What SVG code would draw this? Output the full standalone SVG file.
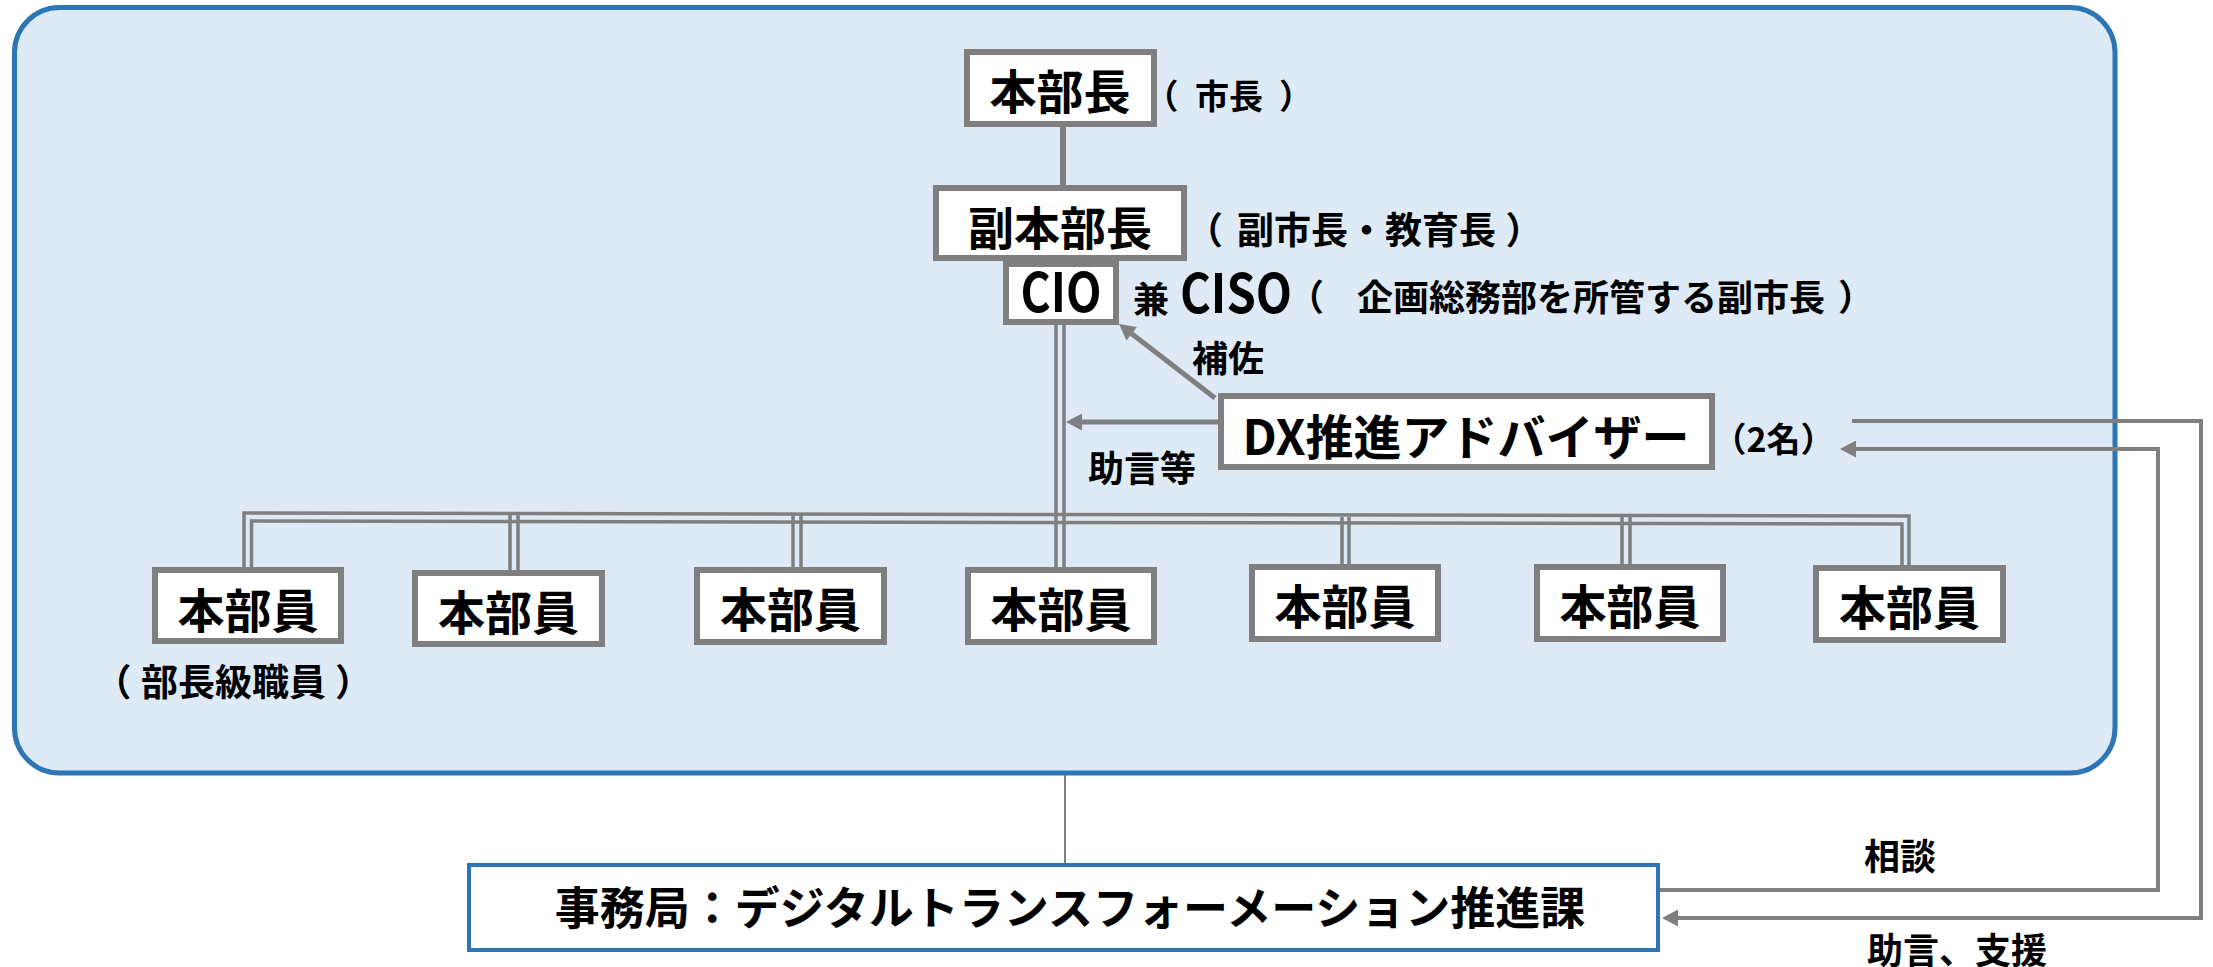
<svg xmlns="http://www.w3.org/2000/svg" width="2213" height="967" viewBox="0 0 2213 967">
<style>
.box{fill:#fff;stroke:#7f7f7f;stroke-width:6}
.ln{fill:none;stroke:#7f7f7f;stroke-width:3.5}
.ar{fill:none;stroke:#7f7f7f;stroke-width:5}
.t{font-family:"Noto Sans CJK JP","Noto Sans CJK SC",sans-serif;font-weight:bold;fill:#000;text-anchor:middle;dominant-baseline:central}
.lat{dominant-baseline:alphabetic}
</style>
<defs>
<marker id="ah" markerUnits="userSpaceOnUse" markerWidth="17" markerHeight="17" viewBox="0 0 16 17" refX="4" refY="8.5" orient="auto">
<path d="M0,0 L16,8.5 L0,17 z" fill="#7f7f7f"/>
</marker>
</defs>
<rect id="container" x="14.5" y="7.5" width="2100.5" height="765.5" rx="45" ry="45" fill="#deeaf6" stroke="#2e75b6" stroke-width="5"/>
<g id="connectors">
<line class="ln" x1="1063" y1="127" x2="1063" y2="188" style="stroke-width:6"/>
<line class="ln" x1="1056" y1="325" x2="1056" y2="570"/>
<line class="ln" x1="1064" y1="325" x2="1064" y2="570"/>
<polyline class="ln" points="244,570 244,513 1909,516 1909,568"/>
<polyline class="ln" points="251.5,570 251.5,521 1902,524 1902,568"/>
<line class="ln" x1="510" y1="515" x2="510" y2="573"/>
<line class="ln" x1="518" y1="515" x2="518" y2="573"/>
<line class="ln" x1="793" y1="515" x2="793" y2="570"/>
<line class="ln" x1="801" y1="515" x2="801" y2="570"/>
<line class="ln" x1="1342" y1="517" x2="1342" y2="567"/>
<line class="ln" x1="1349" y1="517" x2="1349" y2="567"/>
<line class="ln" x1="1622" y1="517" x2="1622" y2="567"/>
<line class="ln" x1="1630" y1="517" x2="1630" y2="567"/>
<line class="ar" x1="1215" y1="398" x2="1128.5" y2="331.3" marker-end="url(#ah)"/>
<line class="ar" x1="1218" y1="422" x2="1078" y2="422" marker-end="url(#ah)"/>
<line class="ln" x1="1065" y1="775" x2="1065" y2="865" style="stroke-width:2"/>
<path class="ln" d="M1852,421 H2201 V918 H1674" style="stroke-width:4" marker-end="url(#ah)"/>
<path class="ln" d="M1660,890 H2158 V449 H1852" style="stroke-width:4" marker-end="url(#ah)"/>
</g>
<g id="n-honbucho">
<rect class="box" x="967" y="52" width="187" height="72"/>
<text class="t" x="1060" y="88" font-size="47">本部長</text>
<text class="t" y="94" font-size="34"><tspan x="1161.5">（</tspan><tspan x="1229">市長</tspan><tspan x="1296">）</tspan></text>
</g>
<g id="n-fukuhonbucho">
<rect class="box" x="936" y="188" width="248" height="70"/>
<text class="t" x="1060" y="225" font-size="46">副本部長</text>
<text class="t" y="227.5" font-size="37"><tspan x="1204.5">（</tspan><tspan x="1366.5">副市長・教育長</tspan><tspan x="1524">）</tspan></text>
</g>
<g id="n-cio">
<rect class="box" x="1006" y="264" width="110" height="58"/>
<text class="t lat" x="1061" y="312" font-size="54" textLength="81" lengthAdjust="spacingAndGlyphs">CIO</text>
<text class="t" x="1151" y="296.5" font-size="36">兼</text>
<text class="t lat" x="1236" y="313" font-size="54" textLength="112" lengthAdjust="spacingAndGlyphs">CISO</text>
<text class="t" y="295" font-size="36"><tspan x="1306">（</tspan><tspan x="1591">企画総務部を所管する副市長</tspan><tspan x="1856">）</tspan></text>
</g>
<g id="n-dx">
<rect class="box" x="1221" y="396" width="491" height="71"/>
<text class="t" x="1466" y="433.5" font-size="48">DX推進アドバイザー</text>
<text class="t" x="1773.5" y="437.5" font-size="34">（2名）</text>
</g>
<text class="t" x="1228" y="356" font-size="36">補佐</text>
<text class="t" x="1142" y="466" font-size="36">助言等</text>
<g id="n-member1">
<rect class="box" x="155" y="570" width="186" height="71"/>
<text class="t" x="248" y="607" font-size="47">本部員</text>
<text class="t" y="679.5" font-size="37"><tspan x="113">（</tspan><tspan x="233.5">部長級職員</tspan><tspan x="353.5">）</tspan></text>
</g>
<g id="n-member2">
<rect class="box" x="415" y="573" width="187" height="71"/>
<text class="t" x="508.5" y="609" font-size="47">本部員</text>
</g>
<g id="n-member3">
<rect class="box" x="697" y="570" width="187" height="72"/>
<text class="t" x="790.5" y="606" font-size="47">本部員</text>
</g>
<g id="n-member4">
<rect class="box" x="968" y="570" width="186" height="72"/>
<text class="t" x="1061" y="606" font-size="47">本部員</text>
</g>
<g id="n-member5">
<rect class="box" x="1252" y="567" width="186" height="72"/>
<text class="t" x="1345" y="603" font-size="47">本部員</text>
</g>
<g id="n-member6">
<rect class="box" x="1537" y="567" width="186" height="72"/>
<text class="t" x="1630" y="603" font-size="47">本部員</text>
</g>
<g id="n-member7">
<rect class="box" x="1816" y="568" width="187" height="72"/>
<text class="t" x="1909.5" y="604" font-size="47">本部員</text>
</g>
<g id="n-office">
<rect x="469" y="865" width="1189" height="85" fill="#fff" stroke="#2e75b6" stroke-width="4"/>
<text class="t" x="1070" y="905" font-size="45">事務局：デジタルトランスフォーメーション推進課</text>
</g>
<text class="t" x="1900" y="854" font-size="36">相談</text>
<text class="t" x="1957" y="948" font-size="36">助言、支援</text>
</svg>
